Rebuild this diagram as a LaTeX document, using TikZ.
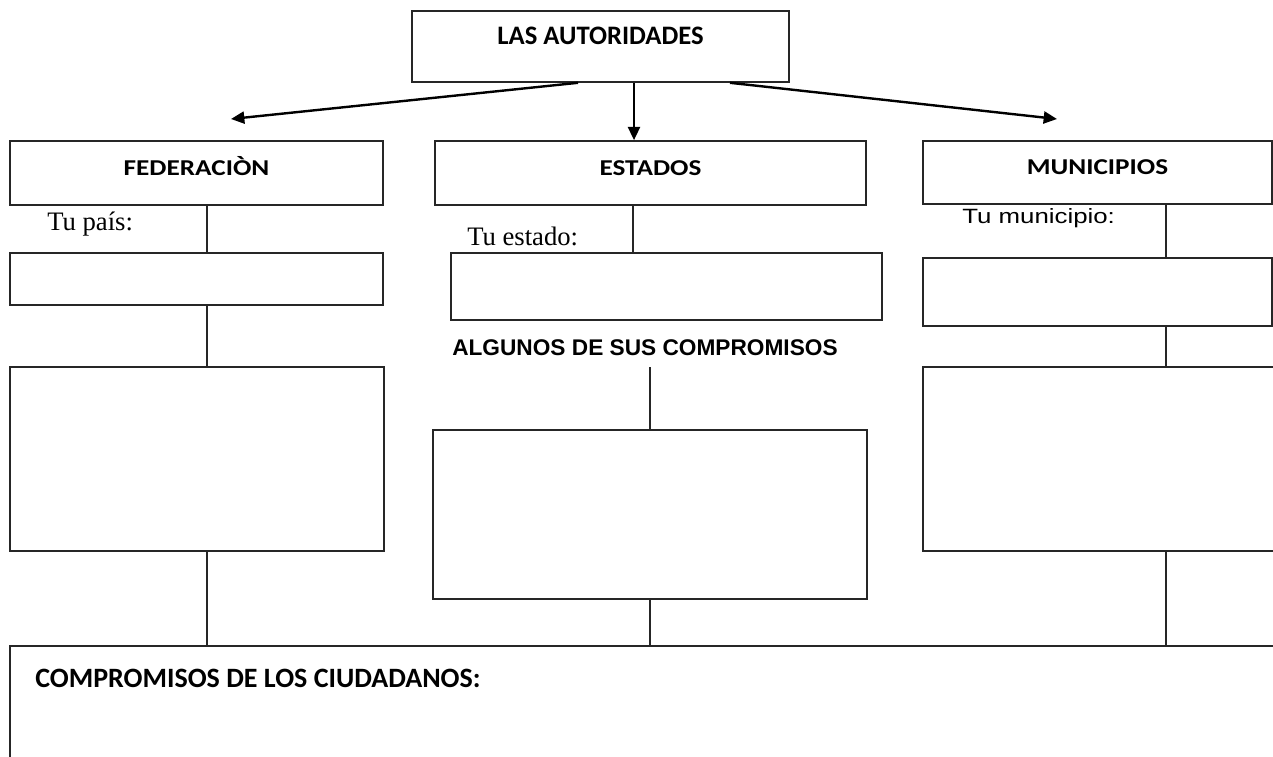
\documentclass[tikz,border=0pt]{standalone}
\usepackage{fontspec}
\setmainfont{Liberation Serif}
\newfontfamily\calfont{Carlito}
\newfontfamily\calwide[FakeStretch=1.2]{Carlito}
\newfontfamily\arfont{Liberation Sans}
\newfontfamily\arwide[FakeStretch=1.25]{Liberation Sans}
\usetikzlibrary{positioning,arrows.meta,calc}

\begin{document}
\begin{tikzpicture}[
  x=0.75pt, y=-0.75pt,
  box/.style 2 args={draw=black!85, line width=1.2pt, minimum width=#1*0.75pt, minimum height=#2*0.75pt, inner sep=0pt},
  head/.style={font=\calwide\bfseries\fontsize{17}{20}\selectfont, text height=11pt, text depth=7.5pt},
  note/.style={anchor=base west, inner sep=0pt},
  link/.style={draw=black!85, line width=1.2pt},
  arr/.style={-{Triangle[length=10pt, width=9pt]}, line width=1.8pt}
]
  \clip (0,0) rectangle (1273,756);
  % top
  \node[box={377}{71}, font=\calfont\bfseries\fontsize{20}{24}\selectfont, text height=13pt, text depth=15.8pt] (aut) at (600.5,46.5) {LAS AUTORIDADES};
  % three levels
  \node[box={373}{64}, head] (fed) at (196.5,173) {FEDERACIÒN};
  \node[box={431}{64}, head] (est) at (650.5,173) {ESTADOS};
  \node[box={349}{63}, head] (mun) at (1097.5,172.5) {MUNICIPIOS};
  \node[note, font=\fontsize{20}{24}\selectfont] (fedlbl) at (47,230) {Tu país:};
  \node[note, font=\fontsize{20}{24}\selectfont] (estlbl) at (467,245) {Tu estado:};
  \node[note, font=\arwide\fontsize{15.5}{18}\selectfont] (munlbl) at (962,223) {Tu municipio:};
  \node[box={373}{52}] (fedname) at (196.5,279) {};
  \node[box={431}{67}] (estname) at (666.5,286.5) {};
  \node[box={349}{68}] (munname) at (1097.5,292) {};
  \node[note, font=\arfont\bfseries\fontsize{17}{20}\selectfont, inner ysep=9pt] (alg) at (452,355) {ALGUNOS DE SUS COMPROMISOS};
  \node[box={374}{184}] (fedlist) at (197,459) {};
  \node[box={434}{169}] (estlist) at (650,514.5) {};
  \node[box={367}{184}] (munlist) at (1106.5,459) {};
  % bottom
  \node[box={1280}{134}] (cit) at (650,713) {};
  \node[note, font=\calfont\bfseries\fontsize{21}{25}\selectfont] (citlbl) at (35,687) {COMPROMISOS DE LOS CIUDADANOS:};

  \coordinate (fedx) at (207,0);
  \coordinate (estx) at (633,0);
  \coordinate (munx) at (1166,0);
  \coordinate (fedtip) at (231,119);
  \coordinate (muntip) at (1057,119);

  \draw[arr] ($(aut.south)+(-22.5,0)$) -- (fedtip);
  \draw[arr] ($(aut.south)+(33.5,0)$) coordinate (c) -- (c |- est.north);
  \draw[arr] ($(aut.south)+(129.5,0)$) -- (muntip);

  \draw[link] (fed.south -| fedx) -- (fedname.north -| fedx);
  \draw[link] (fedname.south -| fedx) -- (fedlist.north -| fedx);
  \draw[link] (fedlist.south -| fedx) -- (cit.north -| fedx);
  \draw[link] (est.south -| estx) -- (estname.north -| estx);
  \draw[link] (alg.south -| estlist.north) -- (estlist.north);
  \draw[link] (estlist.south) -- (cit.north -| estlist.south);
  \draw[link] (mun.south -| munx) -- (munname.north -| munx);
  \draw[link] (munname.south -| munx) -- (munlist.north -| munx);
  \draw[link] (munlist.south -| munx) -- (cit.north -| munx);
\end{tikzpicture}
\end{document}
